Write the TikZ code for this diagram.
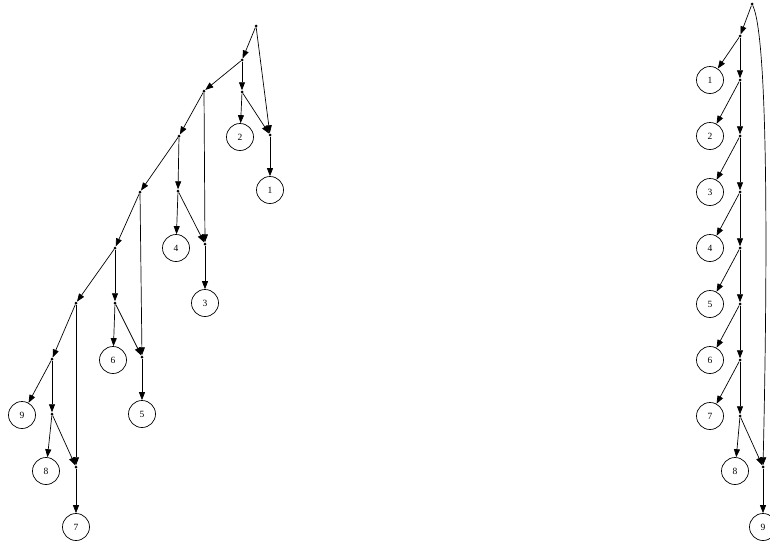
\documentclass[tikz,border=0pt]{standalone}
\usepackage{fontspec}
\setmainfont{Liberation Serif}
\usetikzlibrary{arrows.meta}
\begin{document}
\begin{tikzpicture}[x=1pt,y=-1pt,
  pt/.style={circle,fill=black,inner sep=0pt,minimum size=3pt},
  leaf/.style={circle,draw,line width=0.7pt,inner sep=0pt,minimum size=27pt,font=\fontsize{9.5}{10}\selectfont},
  edge/.style={line width=0.7pt,-{Triangle[length=8pt,width=6pt]}}]
\useasboundingbox (0,0) rectangle (770,544);
% left tree
\node[pt] (r) at (256,26) {};
\node[pt] (A1) at (242,60) {};
\node[pt] (D1) at (270,135) {};
\node[pt] (B1) at (204,91) {};
\node[pt] (C1) at (242,92) {};
\node[leaf] (n2) at (240,137) {2};
\node[leaf] (n1) at (270,190) {1};
\node[pt] (B2) at (179,136) {};
\node[pt] (D2) at (205,244) {};
\node[pt] (C2) at (178,191) {};
\node[leaf] (n4) at (176,248) {4};
\node[leaf] (n3) at (205,303) {3};
\node[pt] (B3) at (140,192) {};
\node[pt] (D3) at (142,357) {};
\node[pt] (B4) at (115,248) {};
\node[pt] (C3) at (115,303) {};
\node[leaf] (n6) at (113,360) {6};
\node[leaf] (n5) at (142,414) {5};
\node[pt] (B5) at (76,303) {};
\node[pt] (B6) at (52,359) {};
\node[pt] (D4) at (76,467) {};
\node[leaf] (n9) at (22,415) {9};
\node[pt] (C4) at (52,414) {};
\node[leaf] (n8) at (46,471) {8};
\node[leaf] (n7) at (76,527) {7};
\draw[edge] (r) -- (A1);
\draw[edge] (r) -- (D1);
\draw[edge] (A1) -- (B1);
\draw[edge] (A1) -- (C1);
\draw[edge] (C1) -- (n2);
\draw[edge] (C1) -- (D1);
\draw[edge] (D1) -- (n1);
\draw[edge] (B1) -- (B2);
\draw[edge] (B1) -- (D2);
\draw[edge] (B2) -- (C2);
\draw[edge] (C2) -- (n4);
\draw[edge] (C2) -- (D2);
\draw[edge] (D2) -- (n3);
\draw[edge] (B2) -- (B3);
\draw[edge] (B3) -- (D3);
\draw[edge] (B3) -- (B4);
\draw[edge] (B4) -- (C3);
\draw[edge] (C3) -- (n6);
\draw[edge] (C3) -- (D3);
\draw[edge] (D3) -- (n5);
\draw[edge] (B4) -- (B5);
\draw[edge] (B5) -- (B6);
\draw[edge] (B5) -- (D4);
\draw[edge] (B6) -- (n9);
\draw[edge] (B6) -- (C4);
\draw[edge] (C4) -- (n8);
\draw[edge] (C4) -- (D4);
\draw[edge] (D4) -- (n7);
% right chain
\node[pt] (R0) at (752,4) {};
\node[pt] (R1) at (740,36) {};
\foreach \k [evaluate=\k as \y using {80+56*(\k-2)}] in {2,...,8} {
  \node[pt] (R\k) at (740,\y) {};
}
\foreach \k [evaluate=\k as \y using {80+56*(\k-1)}] in {1,...,7} {
  \node[leaf] (m\k) at (710,\y) {\k};
}
\node[leaf] (m8) at (735,471) {8};
\node[pt] (RD) at (763,467) {};
\node[leaf] (m9) at (763,527) {9};
\draw[edge] (R0) -- (R1);
\foreach \k [evaluate=\k as \n using int(\k+1)] in {1,...,7} {
  \draw[edge] (R\k) -- (m\k);
  \draw[edge] (R\k) -- (R\n);
}
\draw[edge] (R8) -- (m8);
\draw[edge] (R8) -- (RD);
\draw[edge] (R0) .. controls (772,45) and (765,380) .. (RD);
\draw[edge] (RD) -- (m9);
\end{tikzpicture}
\end{document}
